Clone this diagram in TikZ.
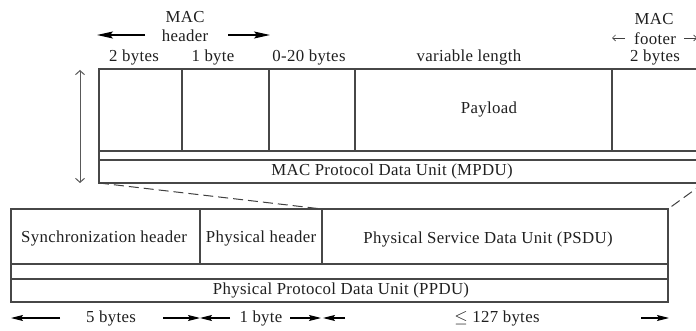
\documentclass[tikz,border=0pt]{standalone}
\usepackage{fontspec}
\setmainfont{Liberation Serif}[LetterSpace=2]
\usetikzlibrary{arrows.meta}
\begin{document}
\begin{tikzpicture}[x=1pt,y=-1pt,
  ln/.style={draw=black!72, line width=1.1pt},
  cell/.style={ln, anchor=north west, inner sep=0pt, outer sep=0pt},
  lbl/.style={font=\fontsize{16.8}{19}\selectfont, text=black!88, inner sep=0pt},
  dimarrow/.style={draw=black, line width=1.1pt, -{Stealth[length=12pt,width=6pt,inset=2pt]}},
  bigarrow/.style={draw=black, line width=1.2pt, -{Stealth[length=16pt,width=7pt,inset=3pt]}},
  thinarrow/.style={draw=black!75, line width=0.7pt, -{Straight Barb[length=3pt,width=6pt]}},
  spanarrow/.style={draw=black!65, line width=1pt, {Straight Barb[length=4pt,width=9pt]}-{Straight Barb[length=4pt,width=9pt]}},
  dashedline/.style={draw=black!75, line width=1pt, dash pattern=on 10pt off 5pt}
]
\useasboundingbox (0,0) rectangle (696,331);
\clip (0,0) rectangle (696,331);

% ---- MAC frame (MPDU) ----
\node[cell, minimum width=83pt,  minimum height=82pt] (fc)   at (99,69)  {};
\node[cell, minimum width=87pt,  minimum height=82pt] (seq)  at (182,69) {};
\node[cell, minimum width=86pt,  minimum height=82pt] (addr) at (269,69) {};
\node[cell, minimum width=257pt, minimum height=82pt] (pay)  at (355,69) {};
\node[cell, minimum width=92pt,  minimum height=82pt] (fcs)  at (612,69) {};
\node[cell, minimum width=605pt, minimum height=9pt]  (mstrip) at (99,151) {};
\node[cell, minimum width=605pt, minimum height=23pt] (mpdu) at (99,160) {};

\node[lbl] (paylbl)  at (489,109) {Payload};
\node[lbl] (mpdulbl) at (392,171) {MAC Protocol Data Unit (MPDU)};

% field sizes
\node[lbl] (s1) at (134,57) {2 bytes};
\node[lbl] (s2) at (213,57) {1 byte};
\node[lbl] (s3) at (309,57) {0-20 bytes};
\node[lbl] (s4) at (469,57) {variable length};
\node[lbl] (s5) at (655,57) {2 bytes};

% MAC header span
\node[lbl] (machdr) at (185,17) {MAC};
\node[lbl] (hdr)    at (185,36) {header};
\coordinate (hdrL0) at (145,35);
\coordinate (hdrL1) at (97,35);
\coordinate (hdrR0) at (228,35);
\coordinate (hdrR1) at (270,35);
\draw[bigarrow] (hdrL0) -- (hdrL1);
\draw[bigarrow] (hdrR0) -- (hdrR1);

% MAC footer span
\node[lbl] (macftr) at (654,19) {MAC};
\node[lbl] (ftr)    at (655,39) {footer};
\coordinate (ftrL0) at (625,38);
\coordinate (ftrL1) at (612,38);
\coordinate (ftrR0) at (684,38);
\coordinate (ftrR1) at (697,38);
\draw[thinarrow] (ftrL0) -- (ftrL1);
\draw[thinarrow] (ftrR0) -- (ftrR1);

% height of MAC frame
\coordinate (vtop) at (80,70);
\coordinate (vbot) at (80,183);
\draw[spanarrow] (vtop) -- (vbot);

% ---- PHY frame (PPDU) ----
\node[cell, minimum width=189pt, minimum height=55pt] (sync) at (11,209)  {};
\node[cell, minimum width=122pt, minimum height=55pt] (phdr) at (200,209) {};
\node[cell, minimum width=346pt, minimum height=55pt] (psdu) at (322,209) {};
\node[cell, minimum width=657pt, minimum height=15pt] (pstrip) at (11,264) {};
\node[cell, minimum width=657pt, minimum height=23pt] (ppdu) at (11,279) {};

\node[lbl] (synclbl) at (104,238) {Synchronization header};
\node[lbl] (phdrlbl) at (261,238) {Physical header};
\node[lbl] (psdulbl) at (488,239) {Physical Service Data Unit (PSDU)};
\node[lbl] (ppdulbl) at (341,290) {Physical Protocol Data Unit (PPDU)};

% MPDU carried as PSDU
\draw[dashedline] (mpdu.south west) -- (psdu.north west);
\draw[dashedline] (mpdu.south east) -- (psdu.north east);

% byte counts
\node[lbl] (b1) at (111,318) {5 bytes};
\node[lbl] (b2) at (261,318) {1 byte};
\node[lbl] (b3) at (497,318) {$\leq$ 127 bytes};
\coordinate (a1s) at (60,318);  \coordinate (a1e) at (11,318);
\coordinate (a2s) at (163,318); \coordinate (a2e) at (200,318);
\coordinate (a3s) at (230,318); \coordinate (a3e) at (200,318);
\coordinate (a4s) at (290,318); \coordinate (a4e) at (321,318);
\coordinate (a5s) at (345,318); \coordinate (a5e) at (323,318);
\coordinate (a6s) at (641,318); \coordinate (a6e) at (669,318);
\draw[dimarrow] (a1s) -- (a1e);
\draw[dimarrow] (a2s) -- (a2e);
\draw[dimarrow] (a3s) -- (a3e);
\draw[dimarrow] (a4s) -- (a4e);
\draw[dimarrow] (a5s) -- (a5e);
\draw[dimarrow] (a6s) -- (a6e);
\end{tikzpicture}
\end{document}
